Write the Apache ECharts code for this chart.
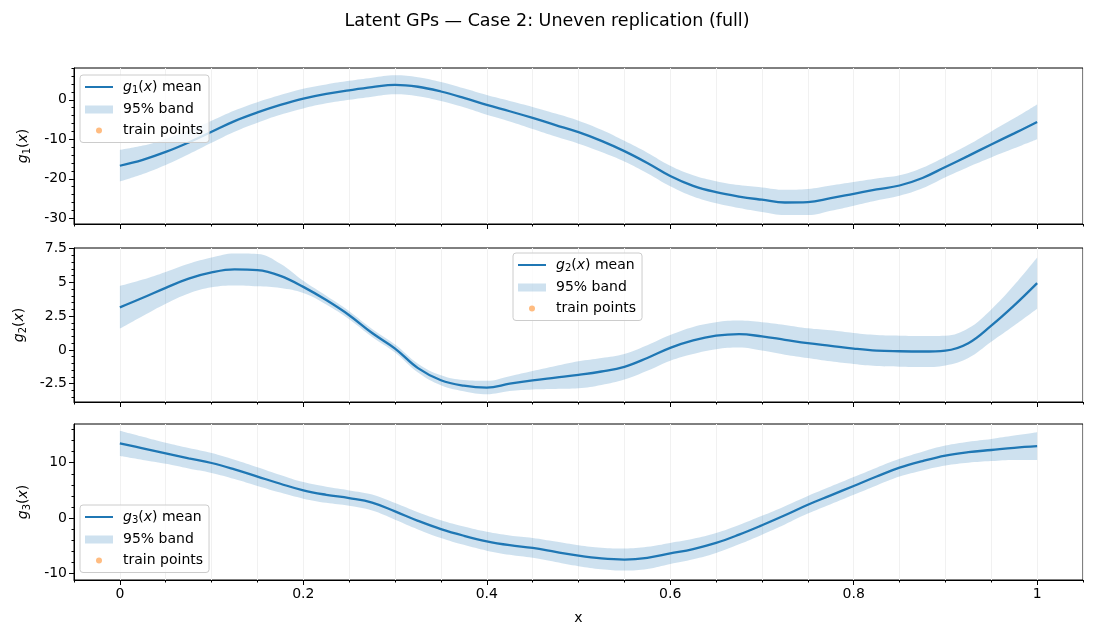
<!DOCTYPE html>
<html>
<head>
<meta charset="utf-8">
<script src="https://cdn.jsdelivr.net/npm/echarts@6/dist/echarts.min.js"></script>
<style>
html,body{margin:0;padding:0;background:#fff;}
#main{width:1094px;height:638px;}
</style>
</head>
<body>
<div id="main"></div>
<script>
var xVals=[0,0.025,0.05,0.075,0.1,0.125,0.15,0.175,0.2,0.225,0.25,0.275,0.3,0.325,0.35,0.375,0.4,0.425,0.45,0.475,0.5,
	0.525,0.55,0.575,0.6,0.625,0.65,0.675,0.7,0.725,0.75,0.775,0.8,0.825,0.85,0.875,0.9,0.925,0.95,0.975,1];

var g1Mean=[-16.7,-15.2,-13.2,-10.8,-8.1,-5.4,-3.2,-1.3,0.3,1.5,2.4,3.2,3.8,3.3,2.1,0.5,-1.3,-2.9,-4.6,-6.4,-8.2,
	-10.4,-13.0,-16.0,-19.3,-21.8,-23.4,-24.5,-25.3,-26.0,-25.9,-24.9,-23.8,-22.7,-21.7,-19.8,-17.0,-14.2,-11.3,-8.5,-5.6];
var g1Half=[4.0,3.6,3.3,3.0,2.8,2.7,2.6,2.5,2.5,2.4,2.4,2.4,2.4,2.4,2.4,2.4,2.5,2.6,2.8,2.9,2.9,
	2.8,2.6,2.6,2.6,2.7,2.8,2.9,3.1,3.2,3.3,3.2,3.0,2.8,2.6,2.6,2.6,2.8,3.3,3.8,4.4];

var g2Mean=[3.15,3.86,4.6,5.28,5.74,5.96,5.91,5.49,4.67,3.69,2.57,1.25,0.1,-1.35,-2.25,-2.65,-2.79,-2.5,-2.25,-2.05,-1.85,
	-1.6,-1.25,-0.6,0.15,0.7,1.05,1.17,1.0,0.75,0.5,0.3,0.1,-0.05,-0.1,-0.12,-0.05,0.5,1.8,3.3,4.95];
var g2Half=[1.58,1.35,1.18,1.1,1.1,1.18,1.2,0.9,0.45,0.32,0.3,0.3,0.3,0.33,0.37,0.42,0.5,0.55,0.68,0.85,1.0,
	1.0,0.95,0.95,0.95,1.0,1.0,1.0,1.05,1.1,1.1,1.15,1.15,1.15,1.15,1.15,1.1,1.1,1.2,1.5,1.9];

var g3Mean=[13.5,12.6,11.7,10.8,9.95,8.8,7.5,6.2,5.0,4.2,3.6,2.8,1.2,-0.5,-2.0,-3.2,-4.2,-4.9,-5.4,-6.1,-6.8,
	-7.3,-7.5,-7.2,-6.4,-5.6,-4.5,-3.0,-1.3,0.5,2.4,4.1,5.8,7.5,9.1,10.3,11.3,11.9,12.3,12.7,13.0];
var g3Half=[2.3,2.1,1.9,1.85,1.8,1.75,1.7,1.6,1.5,1.45,1.4,1.45,1.5,1.55,1.6,1.65,1.7,1.75,1.8,1.85,1.9,
	1.95,2.0,2.0,1.9,1.85,1.8,1.75,1.7,1.65,1.6,1.6,1.6,1.6,1.6,1.7,1.8,1.9,2.0,2.2,2.5];

var xTicks=[0,0.2,0.4,0.6,0.8,1];
var y1Ticks=[-30,-20,-10,0];
var y2Ticks=[-2.5,0,2.5,5,7.5];
var y3Ticks=[-10,0,10];

var chart=echarts.init(document.getElementById("main"));

var panels=[
	{mean:g1Mean,half:g1Half,yTicks:y1Ticks,ymin:-31.45,ymax:8.05,minor:2,top:68,height:156,idx:'1',legend:{left:80,top:75}},
	{mean:g2Mean,half:g2Half,yTicks:y2Ticks,ymin:-3.86,ymax:7.55,minor:0.5,top:248,height:154,idx:'2',legend:{left:513,top:253}},
	{mean:g3Mean,half:g3Half,yTicks:y3Ticks,ymin:-11.2,ymax:17.0,minor:2,top:424,height:156,idx:'3',legend:{left:80,top:505}}
];

function stepsBetween(a,b,step){
	var out=[],n=Math.round((b-a)/step);
	for(var k=0;k<=n;k++){out.push(Math.round((a+k*step)*1000)/1000);}
	return out;
}
var xMinor=stepsBetween(-0.05,1.05,0.05);

var rich={
	it:{fontStyle:'italic',fontSize:14,color:'#000',lineHeight:17,fontFamily:'DejaVu Sans'},
	sub:{fontSize:10,color:'#000',verticalAlign:'bottom',lineHeight:17,fontFamily:'DejaVu Sans'},
	n:{fontSize:14,color:'#000',lineHeight:17,fontFamily:'DejaVu Sans'},
	sp:{width:5}
};
function gLabel(i){
	return '{it|g}{sub|'+i+'}{n|(}{it|x}{n|)}';
}

var grids=[],xAxes=[],yAxes=[],series=[],legends=[];
var lineIcon='path://M0,0M28,11M0,4.5L28,4.5L28,6.5L0,6.5Z';
var bandIcon='path://M0,0M28,11M0,1.5L28,1.5L28,9.5L0,9.5Z';
var dotIcon='path://M0,0M28,11M11,5.5a3,3 0 1,0 6,0a3,3 0 1,0 -6,0Z';

panels.forEach(function(p,i){
	grids.push({left:74,right:11,top:p.top,height:p.height,show:true,borderColor:'#000',borderWidth:1,containLabel:false});
	xAxes.push({
		type:'value',gridIndex:i,min:-0.05,max:1.05,position:'bottom',
		name:i==2?'x':'',nameLocation:'middle',nameGap:31,
		nameTextStyle:{fontSize:14,color:'#000'},
		axisLine:{show:true,onZero:false,lineStyle:{color:'#000',width:1}},
		axisTick:{show:true,customValues:xTicks,length:5,lineStyle:{color:'#000'}},
		axisLabel:{show:i==2,customValues:xTicks,fontSize:14,color:'#000',margin:7},
		splitLine:{show:false}
	});
	xAxes.push({
		type:'value',gridIndex:i,min:-0.05,max:1.05,position:'bottom',
		axisLine:{show:false,onZero:false},
		axisTick:{show:true,customValues:xMinor,length:2.5,lineStyle:{color:'#000'}},
		axisLabel:{show:false},
		splitLine:{show:true,lineStyle:{color:'#f1f1f1',width:1}}
	});
	yAxes.push({
		type:'value',gridIndex:i,min:p.ymin,max:p.ymax,position:'left',
		name:gLabel(p.idx),nameLocation:'middle',nameRotate:90,nameGap:i==1?46:42,
		nameTextStyle:{fontSize:14,color:'#000',rich:rich},
		axisLine:{show:true,onZero:false,lineStyle:{color:'#000',width:1}},
		axisTick:{show:true,customValues:p.yTicks,length:5,lineStyle:{color:'#000'}},
		axisLabel:{show:true,customValues:p.yTicks,fontSize:14,color:'#000',margin:7},
		splitLine:{show:false}
	});
	var lo=Math.ceil(p.ymin/p.minor)*p.minor,hi=Math.floor(p.ymax/p.minor)*p.minor;
	yAxes.push({
		type:'value',gridIndex:i,min:p.ymin,max:p.ymax,position:'left',
		axisLine:{show:false,onZero:false},
		axisTick:{show:true,customValues:stepsBetween(lo,hi,p.minor),length:2.5,lineStyle:{color:'#000'}},
		axisLabel:{show:false},splitLine:{show:false}
	});
	// band: stacked on y, so y is put first and mapped by encode
	var lower=[],width=[],mean=[];
	for(var k=0;k<xVals.length;k++){
		lower.push([p.mean[k]-p.half[k],xVals[k]]);
		width.push([2*p.half[k],xVals[k]]);
		mean.push([xVals[k],p.mean[k]]);
	}
	series.push({
		name:'lower'+p.idx,type:'line',xAxisIndex:2*i,yAxisIndex:2*i,data:lower,encode:{x:1,y:0},
		stack:'band'+p.idx,stackStrategy:'all',
		smooth:0.4,symbol:'none',silent:true,lineStyle:{opacity:0},z:1
	});
	series.push({
		name:'band'+p.idx,type:'line',xAxisIndex:2*i,yAxisIndex:2*i,data:width,encode:{x:1,y:0},
		stack:'band'+p.idx,stackStrategy:'all',
		smooth:0.4,symbol:'none',silent:true,
		itemStyle:{color:'rgba(31,119,180,0.22)'},
		lineStyle:{opacity:0},
		areaStyle:{color:'rgba(31,119,180,0.22)',opacity:1},z:1
	});
	series.push({
		name:'mean'+p.idx,type:'line',xAxisIndex:2*i,yAxisIndex:2*i,data:mean,
		smooth:0.4,symbol:'none',
		itemStyle:{color:'#1f77b4'},
		lineStyle:{color:'#1f77b4',width:2.3},z:3
	});
	series.push({
		name:'train'+p.idx,type:'scatter',xAxisIndex:2*i,yAxisIndex:2*i,data:[],
		symbolSize:6,itemStyle:{color:'#ff7f0e',opacity:0.7},z:4
	});
	legends.push({
		orient:'vertical',left:p.legend.left,top:p.legend.top,
		itemWidth:28,itemHeight:11,itemGap:7,
		padding:[5,6,5,5],
		backgroundColor:'rgba(255,255,255,0.8)',
		borderColor:'#cccccc',borderWidth:1,borderRadius:3,
		selectedMode:false,
		data:[
			{name:'mean'+p.idx,icon:lineIcon,itemStyle:{color:'#1f77b4'}},
			{name:'band'+p.idx,icon:bandIcon,itemStyle:{color:'rgba(31,119,180,0.22)'}},
			{name:'train'+p.idx,icon:dotIcon,itemStyle:{color:'#ffa04c'}}
		],
		formatter:function(name){
			if(name.indexOf('mean')==0){return '{sp|}'+gLabel(p.idx)+'{n| mean}';}
			if(name.indexOf('band')==0){return '{sp|}{n|95% band}';}
			return '{sp|}{n|train points}';
		},
		textStyle:{fontSize:14,color:'#000',rich:rich}
	});
});

var option={
	backgroundColor:'#fff',
	animation:false,
	textStyle:{fontFamily:'DejaVu Sans'},
	title:{
		text:'Latent GPs — Case 2: Uneven replication (full)',
		left:'center',top:7,
		textStyle:{fontSize:17.5,fontWeight:'normal',color:'#000',fontFamily:'DejaVu Sans'}
	},
	legend:legends,
	grid:grids,
	xAxis:xAxes,
	yAxis:yAxes,
	series:series
};
chart.setOption(option);
</script>
</body>
</html>
